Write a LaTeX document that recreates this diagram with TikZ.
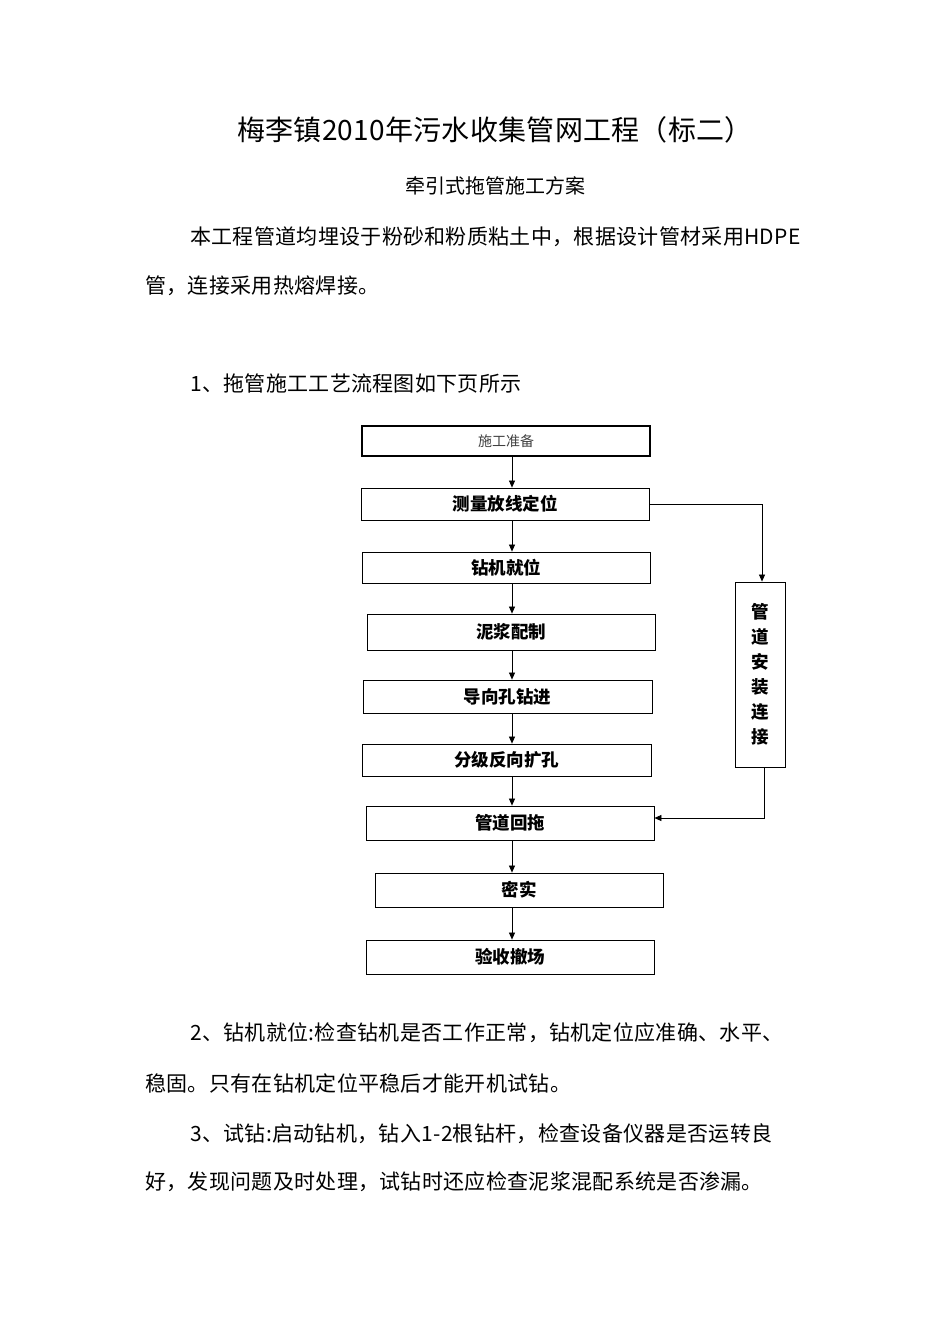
\documentclass[tikz,border=0pt]{standalone}
\usepackage{fontspec}
\setmainfont{Noto Sans CJK SC}
\usetikzlibrary{arrows.meta}
\begin{document}
\begin{tikzpicture}[x=1pt,y=-1pt,
  box/.style={draw,line width=0.8pt,minimum height=0pt,inner sep=0pt,font=\fontsize{17.5}{17.5}\selectfont\bfseries},
  txt/.style={anchor=west,inner sep=0pt,font=\fontsize{21}{21}\selectfont\addfontfeatures{LetterSpace=1.5}},
  arr/.style={-{Triangle[length=7pt,width=6pt]},line width=0.7pt}]
\useasboundingbox (0,0) rectangle (950,1344);
\node[inner sep=0pt,font=\fontsize{28}{28}\selectfont\addfontfeatures{LetterSpace=1}] (title) at (495,130) {梅李镇2010年污水收集管网工程（标二）};
\node[inner sep=0pt,font=\fontsize{20}{20}\selectfont] (sub) at (495,186) {牵引式拖管施工方案};
\node[txt] (p1) at (190,237) {本工程管道均埋设于粉砂和粉质粘土中，根据设计管材采用HDPE};
\node[txt] (p1b) at (145,286) {管，连接采用热熔焊接。};
\node[txt] (p2) at (190,384) {1、拖管施工工艺流程图如下页所示};
\node[txt] (p3) at (190,1033) {2、钻机就位:检查钻机是否工作正常，钻机定位应准确、水平、};
\node[txt] (p3b) at (145,1083) {稳固。只有在钻机定位平稳后才能开机试钻。};
\node[txt] (p4) at (190,1134) {3、试钻:启动钻机，钻入1-2根钻杆，检查设备仪器是否运转良};
\node[txt] (p4b) at (145,1182) {好，发现问题及时处理，试钻时还应检查泥浆混配系统是否渗漏。};

\node[box,line width=1.5pt,minimum width=288pt,minimum height=30pt,font=\fontsize{14}{14}\selectfont,text=black!75] (b1) at (506,441) {\raisebox{-4pt}{施工准备}};
\node[box,minimum width=288pt,minimum height=32pt] (b2) at (505,504) {测量放线定位};
\node[box,minimum width=288pt,minimum height=31pt] (b3) at (506,567.5) {钻机就位};
\node[box,minimum width=288pt,minimum height=36pt] (b4) at (511,632) {泥浆配制};
\node[box,minimum width=289pt,minimum height=33pt] (b5) at (507.5,696.5) {导向孔钻进};
\node[box,minimum width=289pt,minimum height=32pt] (b6) at (506.5,760) {分级反向扩孔};
\node[box,minimum width=288pt,minimum height=34pt] (b7) at (510,823) {管道回拖};
\node[box,minimum width=288pt,minimum height=34pt] (b8) at (519,890) {密实};
\node[box,minimum width=288pt,minimum height=34pt] (b9) at (510,957) {验收撤场};
\node[box,minimum width=50pt,minimum height=185pt,align=center,font=\fontsize{17.5}{25}\selectfont\bfseries] (s) at (760,674.5) {管\\道\\安\\装\\连\\接};

\foreach \a/\b in {b1/b2,b2/b3,b3/b4,b4/b5,b5/b6,b6/b7,b7/b8,b8/b9}
  \draw[arr] (\a.south -| 512,0) -- (\b.north -| 512,0);
\coordinate (c1) at (762,504);
\coordinate (c2) at (764,818);
\draw[arr] (b2.east) -- (c1) -- (c1 |- s.north);
\draw[arr] (s.south -| c2) -- (c2) -- (b7.east |- c2);
\end{tikzpicture}
\end{document}
